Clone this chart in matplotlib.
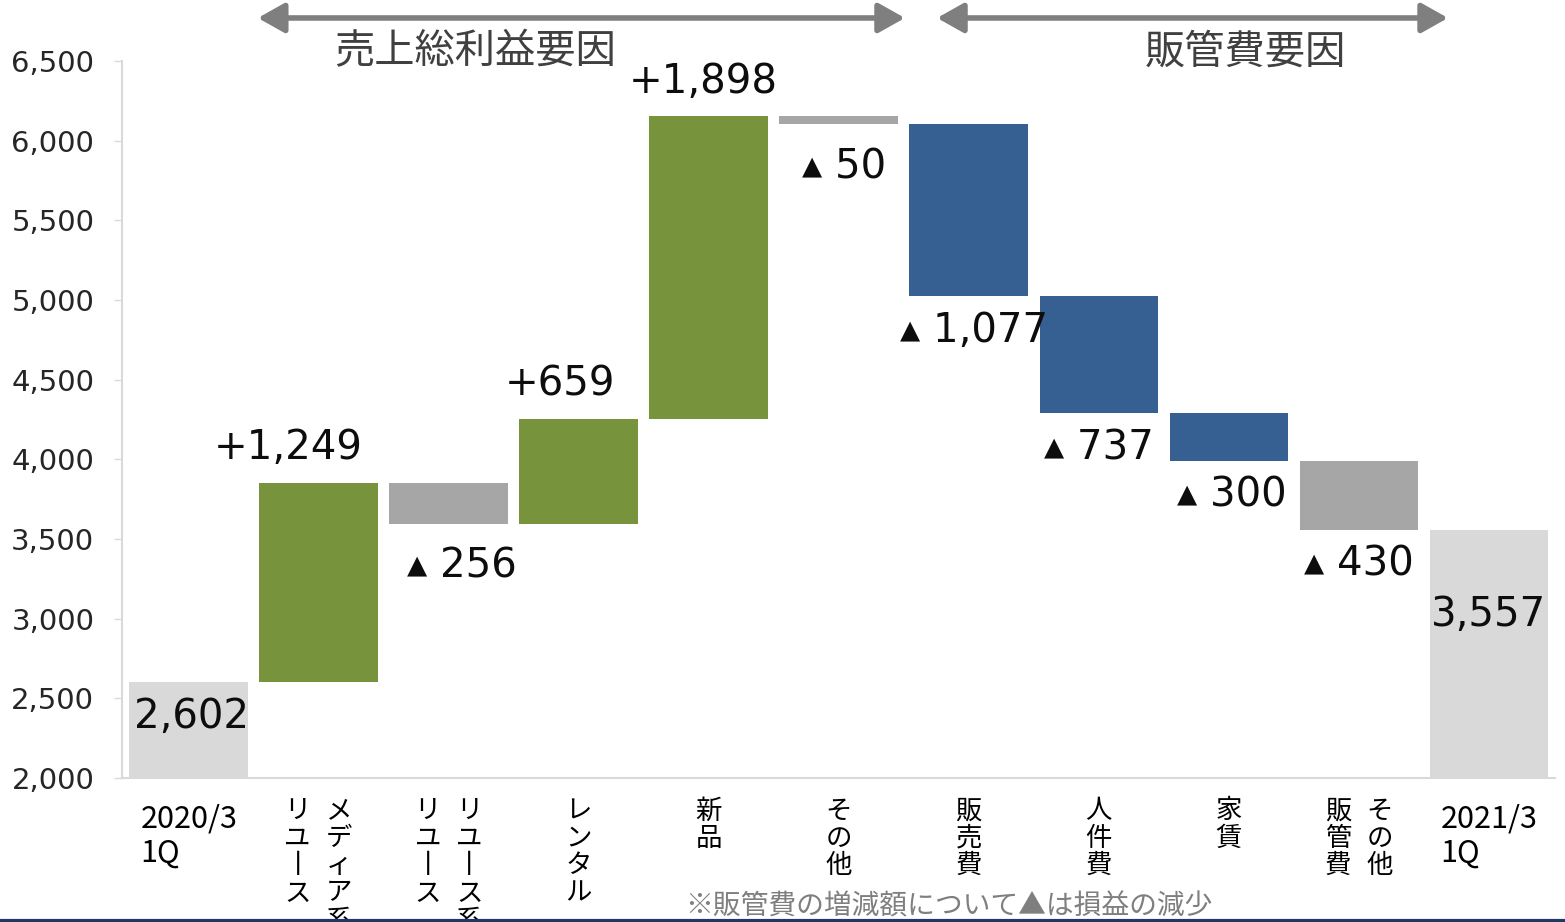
import numpy as np
import matplotlib
matplotlib.use("Agg")
import matplotlib.pyplot as plt
from matplotlib.lines import Line2D
from matplotlib.patches import FancyArrowPatch

plt.rcParams['font.family'] = ['Noto Sans CJK JP', 'DejaVu Sans']

# --- data ---
categories = ["2020/3\n1Q", "メディア系|リユース", "リユース系|リユース", "レンタル", "新品",
              "その他", "販売費", "人件費", "家賃", "その他|販管費", "2021/3\n1Q"]
start_value = 2602
end_value = 3557
deltas = [1249, -256, 659, 1898, -50, -1077, -737, -300, -430]
delta_kind = ["gross", "other", "gross", "gross", "other", "sga", "sga", "sga", "other"]
group_titles = ["売上総利益要因", "販管費要因"]
footnote = "※販管費の増減額について▲は損益の減少"

colors = {"gross": "#77933C", "sga": "#366092", "other": "#A6A6A6", "total": "#D9D9D9"}
# small horizontal nudges of the value labels (points)
label_dx = {1: -22, 2: 10, 3: -13, 4: -4, 5: 4, 6: 4, 7: 0, 8: 2, 9: 0}

# --- figure ---
fig = plt.figure(figsize=(15.65, 9.22), dpi=100)
ax = fig.add_axes([0.078, 0.1562, 0.9157, 0.7777])

width = 0.91
n = len(categories)
# totals
ax.bar([0], [start_value - 2000], bottom=2000, width=width, color=colors["total"])
ax.bar([n - 1], [end_value - 2000], bottom=2000, width=width, color=colors["total"])

num_kw = dict(textcoords="offset points", ha="center", va="center",
              fontsize=29, family="DejaVu Sans", color="#0D0D0D")
level = start_value
for i, (d, k) in enumerate(zip(deltas, delta_kind), start=1):
    lo = level if d > 0 else level + d
    ax.bar([i], [abs(d)], bottom=lo, width=width, color=colors[k])
    if d > 0:
        ax.annotate(f"+{d:,}", (i, level + d), xytext=(label_dx[i], 25), **num_kw)
    else:
        dy = -31 if abs(d) < 100 or d == -256 else -25
        ax.annotate(f"▴ {-d:,}", (i, level + d), xytext=(label_dx[i], dy), **num_kw)
    level += d

ax.annotate(f"{start_value:,}", (0, start_value), xytext=(2, -25), **num_kw)
ax.annotate(f"{end_value:,}", (n - 1, end_value), xytext=(0, -61), **num_kw)

ax.set_xlim(-0.51, n - 0.49)
ax.set_ylim(2000, 6500)
ax.set_yticks(np.arange(2000, 6501, 500))
ax.set_yticklabels([f"{v:,}" for v in range(2000, 6501, 500)], fontsize=21,
                   family="DejaVu Sans", color="#262626")
ax.set_xticks([])
for s in ["top", "right"]:
    ax.spines[s].set_visible(False)
for s in ["left", "bottom"]:
    ax.spines[s].set_color("#D9D9D9")
    ax.spines[s].set_linewidth(1.5)
ax.tick_params(axis="y", length=6, width=1, color="#D9D9D9", pad=14)

# category labels
trans = ax.get_xaxis_transform()
for i, lab in enumerate(categories):
    if i == 0 or i == n - 1:
        ax.text(i - 0.37, -0.035, lab, transform=trans, ha="left", va="top",
                fontsize=22, linespacing=1.15)
        continue
    cols = lab.split("|")
    offs = [0.0] if len(cols) == 1 else [0.16, -0.16]
    for c, o in zip(cols, offs):
        txt = "\n".join(c.replace("ー", "丨"))
        ax.text(i + o, -0.027, txt, transform=trans, ha="center", va="top",
                fontsize=19, linespacing=1.02)

# group arrows and titles
arrow_kw = dict(arrowstyle="<|-|>,head_length=0.8,head_width=0.45", color="#7F7F7F",
                lw=4, mutation_scale=20, transform=fig.transFigure)
fig.add_artist(FancyArrowPatch((0.163, 0.9805), (0.580, 0.9805), **arrow_kw))
fig.add_artist(FancyArrowPatch((0.597, 0.9805), (0.927, 0.9805), **arrow_kw))
fig.text(0.3035, 0.9436, group_titles[0], ha="center", va="center", fontsize=29, color="#404040")
fig.text(0.796, 0.9436, group_titles[1], ha="center", va="center", fontsize=29, color="#404040")

fig.text(0.606, 0.0165, footnote, ha="center", va="center", fontsize=20, color="#7F7F7F")
fig.add_artist(Line2D([0, 1], [0.0015, 0.0015], transform=fig.transFigure,
                      color="#1F3864", lw=3))

fig.savefig("out.png", dpi=100)
